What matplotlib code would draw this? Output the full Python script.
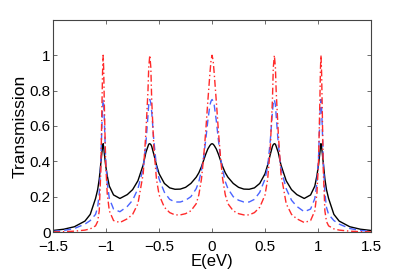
import matplotlib
matplotlib.use("Agg")
import matplotlib.pyplot as plt

# ======================================
# Data
# ======================================
energy = [-1.5, -1.4, -1.3, -1.2, -1.15, -1.1, -1.08, -1.065, -1.05, -1.04,
          -1.034, -1.028, -1.023, -1.018, -1.005, -0.99, -0.97, -0.93, -0.87, -0.8,
          -0.75, -0.7, -0.65, -0.625, -0.605, -0.598, -0.588, -0.578, -0.57, -0.55,
          -0.525, -0.5, -0.45, -0.4, -0.35, -0.3, -0.25, -0.2, -0.15, -0.125,
          -0.1, -0.08, -0.06, -0.04, -0.02, -0.01,
          0.0, 0.01, 0.02, 0.04, 0.06, 0.08, 0.1, 0.125, 0.15, 0.2,
          0.25, 0.3, 0.35, 0.4, 0.45, 0.5, 0.525, 0.55, 0.57, 0.578,
          0.588, 0.598, 0.605, 0.625, 0.65, 0.7, 0.75, 0.8, 0.87, 0.93,
          0.97, 0.99, 1.005, 1.018, 1.023, 1.028, 1.034, 1.04, 1.05, 1.065,
          1.08, 1.1, 1.15, 1.2, 1.3, 1.4, 1.5]

t_black = [0.009, 0.016, 0.03, 0.062, 0.1, 0.19, 0.24, 0.3, 0.39, 0.45,
           0.48, 0.5, 0.48, 0.45, 0.38, 0.32, 0.26, 0.21, 0.19, 0.212,
           0.24, 0.29, 0.38, 0.45, 0.485, 0.497, 0.5, 0.495, 0.485, 0.44,
           0.38, 0.33, 0.275, 0.25, 0.242, 0.243, 0.253, 0.275, 0.31, 0.335,
           0.37, 0.405, 0.44, 0.47, 0.49, 0.497,
           0.5, 0.497, 0.49, 0.47, 0.44, 0.405, 0.37, 0.335, 0.31, 0.275,
           0.253, 0.243, 0.242, 0.25, 0.275, 0.33, 0.38, 0.44, 0.485, 0.495,
           0.5, 0.497, 0.485, 0.45, 0.38, 0.29, 0.24, 0.212, 0.19, 0.21,
           0.26, 0.32, 0.38, 0.45, 0.48, 0.5, 0.48, 0.45, 0.39, 0.3,
           0.24, 0.19, 0.1, 0.062, 0.03, 0.016, 0.009]

t_blue = [0.004, 0.009, 0.02, 0.045, 0.065, 0.1, 0.14, 0.22, 0.4, 0.6,
          0.7, 0.75, 0.72, 0.65, 0.42, 0.28, 0.19, 0.13, 0.115, 0.145,
          0.18, 0.245, 0.36, 0.5, 0.66, 0.72, 0.75, 0.73, 0.68, 0.52,
          0.37, 0.3, 0.225, 0.185, 0.17, 0.17, 0.18, 0.2, 0.245, 0.285,
          0.35, 0.42, 0.52, 0.63, 0.72, 0.74,
          0.75, 0.74, 0.72, 0.63, 0.52, 0.42, 0.35, 0.285, 0.245, 0.2,
          0.18, 0.17, 0.17, 0.185, 0.225, 0.3, 0.37, 0.52, 0.68, 0.73,
          0.75, 0.72, 0.66, 0.5, 0.36, 0.245, 0.18, 0.145, 0.115, 0.13,
          0.19, 0.28, 0.42, 0.65, 0.72, 0.75, 0.7, 0.6, 0.4, 0.22,
          0.14, 0.1, 0.065, 0.045, 0.02, 0.009, 0.004]

t_red = [0.001, 0.002, 0.005, 0.011, 0.018, 0.035, 0.06, 0.12, 0.35, 0.7,
         0.9, 1.0, 0.92, 0.75, 0.4, 0.22, 0.12, 0.065, 0.054, 0.075,
         0.1, 0.16, 0.33, 0.56, 0.8, 0.93, 1.0, 0.93, 0.75, 0.48,
         0.3, 0.21, 0.14, 0.11, 0.097, 0.097, 0.104, 0.12, 0.16, 0.21,
         0.3, 0.42, 0.57, 0.74, 0.9, 0.97,
         1.0, 0.97, 0.9, 0.74, 0.57, 0.42, 0.3, 0.21, 0.16, 0.12,
         0.104, 0.097, 0.097, 0.11, 0.14, 0.21, 0.3, 0.48, 0.75, 0.93,
         1.0, 0.93, 0.8, 0.56, 0.33, 0.16, 0.1, 0.075, 0.054, 0.065,
         0.12, 0.22, 0.4, 0.75, 0.92, 1.0, 0.9, 0.7, 0.35, 0.12,
         0.06, 0.035, 0.018, 0.011, 0.005, 0.002, 0.001]

x_ticks = [-1.5, -1, -0.5, 0, 0.5, 1, 1.5]
x_ticklabels = ["\u22121.5", "\u22121", "\u22120.5", "0", "0.5", "1", "1.5"]
y_ticks = [0, 0.2, 0.4, 0.6, 0.8, 1]
y_ticklabels = ["0", "0.2", "0.4", "0.6", "0.8", "1"]

# ======================================
# Plot
# ======================================
plt.rcParams["font.family"] = ["Liberation Sans", "DejaVu Sans"]

fig = plt.figure(figsize=(4.09, 2.73), dpi=100)
ax = fig.add_axes([0.130, 0.150, 0.777, 0.777])

ax.plot(energy, t_black, color="black", lw=1.0, ls="-")
ax.plot(energy, t_blue, color="#4a63ff", lw=1.0, ls=(0, (5, 3)))
ax.plot(energy, t_red, color="#ff2a2a", lw=1.0, ls=(0, (5, 2, 1, 2)))

ax.set_xlim(-1.5, 1.5)
ax.set_ylim(0, 1.2)
ax.set_xticks(x_ticks)
ax.set_xticklabels(x_ticklabels)
ax.set_yticks(y_ticks)
ax.set_yticklabels(y_ticklabels)
ax.tick_params(direction="in", top=True, right=True, length=3, width=0.6,
               color="#555555", labelsize=11)
ax.tick_params(axis="x", pad=6)
ax.tick_params(axis="y", pad=2)
for s in ax.spines.values():
    s.set_color("#444444")
    s.set_linewidth(0.8)

ax.set_xlabel("E(eV)", fontsize=12, labelpad=0)
ax.set_ylabel("Transmission", fontsize=12.5, labelpad=1.5)

fig.savefig("out.png", dpi=100)
